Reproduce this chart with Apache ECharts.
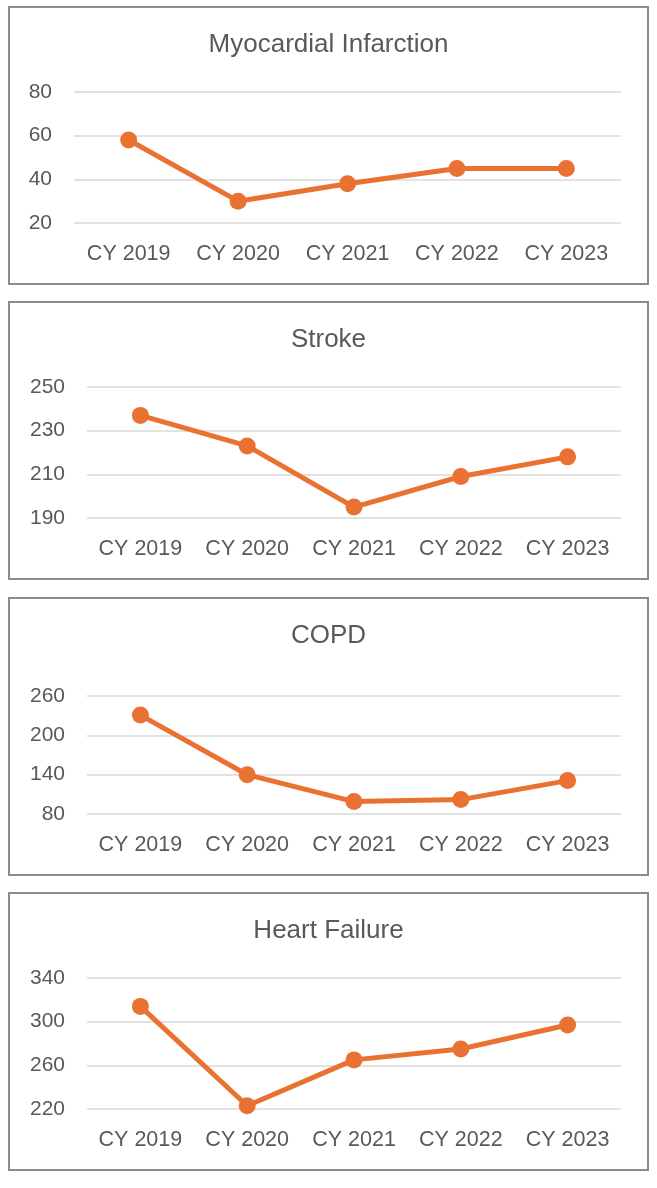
<!DOCTYPE html>
<html>
<head>
<meta charset="utf-8">
<script src="https://cdn.jsdelivr.net/npm/echarts@6/dist/echarts.min.js"></script>
<style>
  html, body { margin: 0; padding: 0; background: #ffffff; }
  .panel {
    position: absolute;
    left: 8px;
    width: 641px;
    height: 279px;
    box-sizing: border-box;
    border: 2px solid #8c8c8c;
    background: #ffffff;
  }
</style>
</head>
<body>
<div class="panel" id="mi" style="top:6px"></div>
<div class="panel" id="stroke" style="top:301px"></div>
<div class="panel" id="copd" style="top:597px"></div>
<div class="panel" id="hf" style="top:892px"></div>
<script>
// categories
const years = ['CY 2019', 'CY 2020', 'CY 2021', 'CY 2022', 'CY 2023'];

// series values
const miValues = [58, 30, 38, 45, 45];
const strokeValues = [237, 223, 195, 209, 218];
const copdValues = [231, 140, 99, 102, 131];
const hfValues = [314, 223, 265, 275, 297];

// tick labels
const miTicks = [20, 40, 60, 80];
const strokeTicks = [190, 210, 230, 250];
const copdTicks = [80, 140, 200, 260];
const hfTicks = [220, 260, 300, 340];

const textColor = '#595959';
const lineColor = '#e97132';
const fontFamily = '"Liberation Sans", Arial, sans-serif';

class LineChart {
  constructor(container, config) {
    this.container = container;
    this.config = config;
  }

  init() {
    const chart = echarts.init(this.container, null, { renderer: 'canvas' });
    const ticks = this.config.ticks;
    const options = {
      animation: false,
      backgroundColor: '#ffffff',
      title: {
        text: this.config.title,
        left: 'center',
        top: 19,
        textStyle: {
          color: textColor,
          fontFamily: fontFamily,
          fontSize: 26,
          fontWeight: 'normal'
        }
      },
      grid: {
        left: this.config.left,
        right: 26,
        top: 84,
        bottom: 60
      },
      xAxis: {
        type: 'category',
        data: years,
        boundaryGap: true,
        axisLine: { show: false },
        axisTick: { show: false },
        axisLabel: {
          interval: 0,
          hideOverlap: false,
          color: textColor,
          fontFamily: fontFamily,
          fontSize: 21.5,
          margin: 20
        }
      },
      yAxis: {
        type: 'value',
        min: ticks[0],
        max: this.config.max ? this.config.max : ticks[ticks.length - 1],
        axisLine: { show: false },
        axisTick: { show: false, customValues: ticks },
        axisLabel: {
          color: textColor,
          fontFamily: fontFamily,
          fontSize: 21,
          margin: 22,
          customValues: ticks
        },
        splitLine: {
          show: true,
          lineStyle: { color: '#d9d9d9', width: 1.5 }
        }
      },
      series: [{
        name: this.config.title,
        type: 'line',
        data: this.config.data,
        symbol: 'circle',
        symbolSize: 17,
        lineStyle: { color: lineColor, width: 5, join: 'round', cap: 'round' },
        itemStyle: { color: lineColor }
      }]
    };
    chart.setOption(options);
  }
}

new LineChart(document.getElementById('mi'), {
  title: 'Myocardial Infarction', data: miValues, ticks: miTicks, left: 64
}).init();
new LineChart(document.getElementById('stroke'), {
  title: 'Stroke', data: strokeValues, ticks: strokeTicks, left: 77
}).init();
new LineChart(document.getElementById('copd'), {
  title: 'COPD', data: copdValues, ticks: copdTicks, left: 77, max: 280
}).init();
new LineChart(document.getElementById('hf'), {
  title: 'Heart Failure', data: hfValues, ticks: hfTicks, left: 77
}).init();
</script>
</body>
</html>
